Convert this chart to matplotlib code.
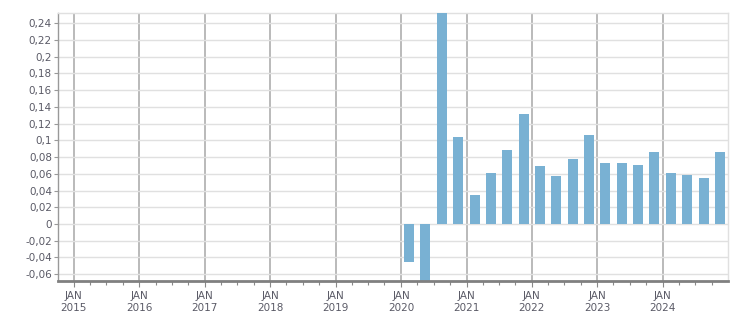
import matplotlib
matplotlib.use("Agg")
import matplotlib.pyplot as plt
import matplotlib.dates as mdates
from matplotlib.ticker import FixedLocator, FuncFormatter
import pandas as pd
import datetime as dt

# ---- data ----
quarters = ["2020Q1", "2020Q2", "2020Q3", "2020Q4",
            "2021Q1", "2021Q2", "2021Q3", "2021Q4",
            "2022Q1", "2022Q2", "2022Q3", "2022Q4",
            "2023Q1", "2023Q2", "2023Q3", "2023Q4",
            "2024Q1", "2024Q2", "2024Q3", "2024Q4"]
values = [-0.045, -0.09, 0.30, 0.104,
          0.035, 0.061, 0.0885, 0.1315,
          0.0695, 0.0575, 0.0775, 0.1065,
          0.073, 0.073, 0.0705, 0.086,
          0.061, 0.0585, 0.055, 0.086]
years = list(range(2015, 2025))
y_ticks = [-0.06, -0.04, -0.02, 0, 0.02, 0.04, 0.06, 0.08, 0.10, 0.12,
           0.14, 0.16, 0.18, 0.20, 0.22, 0.24]

# ---- figure ----
fig = plt.figure(figsize=(7.51, 3.13), dpi=100)
W, H = 751, 313
ax = fig.add_axes([57.5 / W, (H - 281) / H, (728.3 - 57.5) / W, (281 - 13) / H])

periods = [pd.Period(q, freq="Q") for q in quarters]
centers = [p.start_time + (p.end_time - p.start_time) / 2 for p in periods]
x = mdates.date2num([c.to_pydatetime() for c in centers])

bar_color = "#79b1d3"
ax.bar(x, values, width=56, color=bar_color, zorder=3, linewidth=0)

ax.set_xlim(mdates.date2num(dt.datetime(2014, 10, 2)), mdates.date2num(dt.datetime(2025, 1, 1)))
ax.set_ylim(-0.0682, 0.2523)

# y axis
ax.yaxis.set_major_locator(FixedLocator(y_ticks))
def yfmt(v, pos):
    s = ("%.2f" % v).rstrip("0").rstrip(".")
    if s in ("-0", ""):
        s = "0"
    return s.replace(".", ",")
ax.yaxis.set_major_formatter(FuncFormatter(yfmt))
ax.grid(axis="y", color="#e0e0e0", linewidth=1.0, zorder=0)

# x axis
major = [mdates.date2num(dt.datetime(y, 1, 1)) for y in years]
minor = []
for y in range(2014, 2025):
    for m in (4, 7, 10):
        d = mdates.date2num(dt.datetime(y, m, 1))
        if ax.get_xlim()[0] <= d <= ax.get_xlim()[1]:
            minor.append(d)
ax.xaxis.set_major_locator(FixedLocator(major))
ax.xaxis.set_minor_locator(FixedLocator(minor))
ax.set_xticklabels(["JAN\n%d" % y for y in years])
for xv in major:
    ax.axvline(xv, color="#b4b4b4", linewidth=1.3, zorder=1)

label_color = "#5a5a66"
ax.tick_params(axis="y", which="major", length=3, width=0.8, color="#999999",
               labelsize=7.5, labelcolor=label_color, pad=1)
ax.tick_params(axis="x", which="major", length=4, width=0.8, color="#888888",
               labelsize=7.5, labelcolor=label_color, pad=3)
ax.tick_params(axis="x", which="minor", length=3, width=0.8, color="#888888")
for lbl in ax.get_xticklabels():
    lbl.set_linespacing(1.25)

for side in ("top", "right"):
    ax.spines[side].set_color("#e0e0e0")
    ax.spines[side].set_linewidth(1.0)
ax.spines["left"].set_color("#999999")
ax.spines["left"].set_linewidth(1.0)
ax.spines["bottom"].set_color("#808080")
ax.spines["bottom"].set_linewidth(2.0)
ax.spines["bottom"].set_zorder(5)

fig.savefig("out.png", dpi=100)
